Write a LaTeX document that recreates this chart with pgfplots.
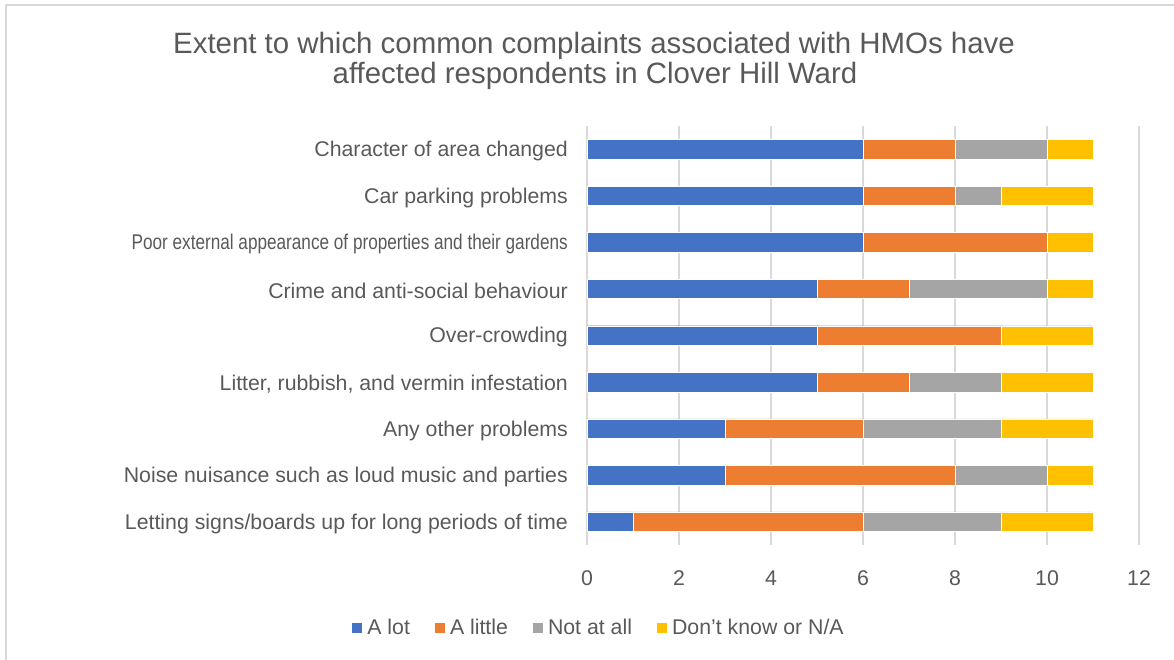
\documentclass[border=0pt]{standalone}
\usepackage{graphicx}
\usepackage{pgfplots}
\pgfplotsset{compat=1.18}
\usepackage{pgfplotstable}
\usepackage{fontspec}
\setmainfont{Liberation Sans}
\definecolor{cA}{HTML}{4472C4}
\definecolor{cB}{HTML}{ED7D31}
\definecolor{cC}{HTML}{A5A5A5}
\definecolor{cD}{HTML}{FFC000}
\definecolor{txt}{HTML}{595959}
\definecolor{gridc}{HTML}{D9D9D9}
% rows: 0 = bottom (Letting signs) ... 8 = top (Character of area changed)
\pgfplotstableread{
y alot
0 1
1 3
2 3
3 5
4 5
5 5
6 6
7 6
8 6
}\tA
\pgfplotstableread{
y alittle
0 5
1 5
2 3
3 2
4 4
5 2
6 4
7 2
8 2
}\tB
\pgfplotstableread{
y notatall
0 3
1 2
2 3
3 2
4 0
5 3
6 0
7 1
8 2
}\tC
\pgfplotstableread{
y dk
0 2
1 1
2 2
3 2
4 2
5 1
6 1
7 2
8 1
}\tD
\begin{document}
\begin{tikzpicture}[x=1bp,y=1bp]
\path[use as bounding box] (0,0) rectangle (1174,660);
\draw[color=gridc, line width=2bp] (6,0) -- (6,655) -- (1174,655);
\node[text=txt, font=\fontsize{29.4bp}{30bp}\selectfont, anchor=base, inner sep=0pt] at (594,606)
  {Extent to which common complaints associated with HMOs have};
\node[text=txt, font=\fontsize{29.4bp}{30bp}\selectfont, anchor=base, inner sep=0pt] at (595,576)
  {affected respondents in Clover Hill Ward};
\begin{axis}[
  at={(587bp,115bp)}, anchor=south west,
  scale only axis, width=552bp, height=419bp,
  xbar stacked, bar width=19.5bp,
  xmin=0, xmax=12, ymin=-0.5, ymax=8.5,
  xtick={0,2,...,12},
  ytick={0,...,8},
  yticklabels={Letting signs/boards up for long periods of time,
    Noise nuisance such as loud music and parties,
    Any other problems,
    {Litter, rubbish, and vermin infestation},
    Over-crowding,
    Crime and anti-social behaviour,
    {\scalebox{0.806}[1]{Poor external appearance of properties and their gardens}},
    Car parking problems,
    Character of area changed},
  xmajorgrids,
  grid style={color=gridc, line width=1.5bp},
  axis line style={draw=none},
  major tick length=0pt,
  /pgf/number format/assume math mode=true,
  tick label style={font=\fontsize{21.3bp}{25bp}\selectfont, text=txt},
  yticklabel style={inner sep=0pt, anchor=east, xshift=-19bp, yshift=-2bp},
  xticklabel style={inner sep=0pt, anchor=center, yshift=-33bp},
  legend columns=4,
  legend style={at={(0.02,-0.198)}, anchor=center, draw=none, fill=none,
    font=\fontsize{21.3bp}{25bp}\selectfont, text=txt,
    /tikz/every odd column/.append style={column sep=5bp},
    /tikz/every even column/.append style={column sep=24bp},
    nodes={inner sep=0.5bp}},
  legend image code/.code={\fill[#1,draw=none] (0bp,-5bp) rectangle (10bp,5bp);},
]
\addplot[fill=cA, draw=white, line width=0.4bp] table[x=alot, y=y] {\tA};
\addplot[fill=cB, draw=white, line width=0.4bp] table[x=alittle, y=y] {\tB};
\addplot[fill=cC, draw=white, line width=0.4bp] table[x=notatall, y=y] {\tC};
\addplot[fill=cD, draw=white, line width=0.4bp] table[x=dk, y=y] {\tD};
\legend{A lot, A little, Not at all, Don’t know or N/A}
\end{axis}
\end{tikzpicture}
\end{document}
